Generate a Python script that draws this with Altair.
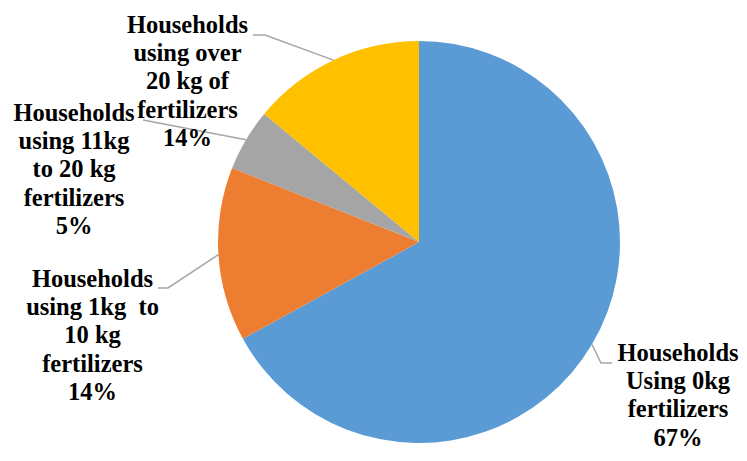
import altair as alt
import pandas as pd
import numpy as np

categories = ["Households Using 0kg fertilizers",
              "Households using 1kg to 10 kg fertilizers",
              "Households using 11kg to 20 kg fertilizers",
              "Households using over 20 kg of fertilizers"]
values = [67, 14, 5, 14]
colors = ["#5B9BD5", "#ED7D31", "#A5A5A5", "#FFC000"]
label_lines = [
    ["Households", "Using 0kg", "fertilizers", "67%"],
    ["Households", "using 1kg\u00a0 to", "10 kg", "fertilizers", "14%"],
    ["Households", "using 11kg", "to 20 kg", "fertilizers", "5%"],
    ["Households", "using over", "20 kg of", "fertilizers", "14%"],
]

# layout (view pixel coordinates; page = view + 8)
W, H = 731, 445
CX, CY, R = 411, 234, 201
label_x = [670, 84.5, 66, 179.5]
label_y0 = [353, 279, 113, 25]
LH = 28.2
leader_near = [[(604, 355), (593, 355)],
               [(150, 280), (160, 280)],
               [(135, 112)],
               [(245, 27), (257, 27)]]

pie_df = pd.DataFrame({"cat": categories, "value": values, "idx": range(4)})

rows = []
for i, lines in enumerate(label_lines):
    for j, t in enumerate(lines):
        rows.append({"t": t, "x": label_x[i], "y": label_y0[i] + j * LH})
text_df = pd.DataFrame(rows)

total = sum(values)
cum = np.cumsum([0] + values)
lrows = []
for i in range(4):
    mid = (cum[i] + cum[i + 1]) / 2 / total * 2 * np.pi
    ex, ey = CX + R * np.sin(mid), CY - R * np.cos(mid)
    pts = leader_near[i] + [(ex, ey)]
    for k, (px, py) in enumerate(pts):
        lrows.append({"g": i, "k": k, "x": px, "y": py})
line_df = pd.DataFrame(lrows)

pie = alt.Chart(pie_df).mark_arc(outerRadius=R).encode(
    theta=alt.Theta("value:Q", stack=True),
    color=alt.Color("cat:N", scale=alt.Scale(domain=categories, range=colors), legend=None),
    order=alt.Order("idx:Q"),
    x=alt.value(CX),
    y=alt.value(CY),
)

leaders = alt.Chart(line_df).mark_line(color="#A6A6A6", strokeWidth=1.5).encode(
    x=alt.X("x:Q", scale=None),
    y=alt.Y("y:Q", scale=None),
    detail="g:N",
    order="k:Q",
)

labels = alt.Chart(text_df).mark_text(
    font="'Liberation Serif', 'Times New Roman', 'DejaVu Serif', serif",
    fontWeight="bold", fontSize=24.5,
    align="center", baseline="alphabetic", color="#000000",
).encode(
    x=alt.X("x:Q", scale=None),
    y=alt.Y("y:Q", scale=None),
    text="t:N",
)

chart = alt.layer(pie, leaders, labels).properties(
    width=W, height=H, autosize=alt.AutoSizeParams(type="none"), padding=0,
    background="white",
).configure_view(stroke=None)

chart.save("out.html", embed_options={"renderer": "svg", "actions": False})
